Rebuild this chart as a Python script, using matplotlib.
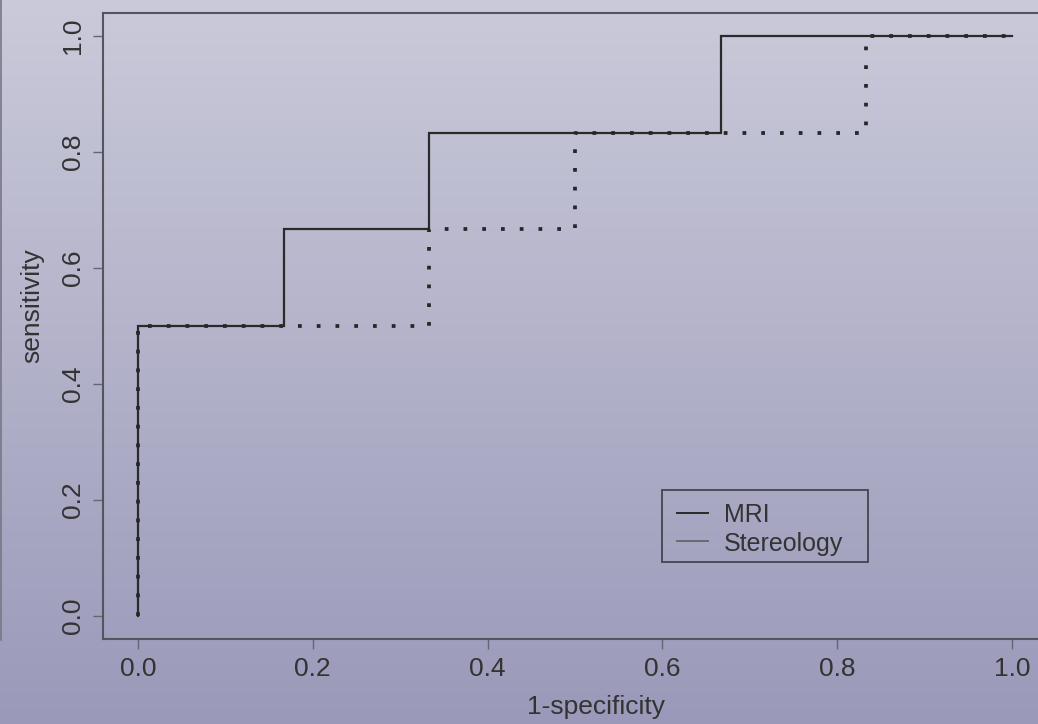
import numpy as np
import matplotlib
matplotlib.use("Agg")
import matplotlib.pyplot as plt
from matplotlib.colors import LinearSegmentedColormap
from matplotlib.patches import Rectangle

plt.rcParams['font.family'] = ['Liberation Sans', 'DejaVu Sans']

# ROC step curves (1-specificity, sensitivity)
mri_fpr = [0, 0, 1/6, 1/6, 2/6, 2/6, 4/6, 4/6, 1]
mri_tpr = [0, 3/6, 3/6, 4/6, 4/6, 5/6, 5/6, 1, 1]
stereo_fpr = [0, 0, 2/6, 2/6, 3/6, 3/6, 5/6, 5/6, 1]
stereo_tpr = [0, 3/6, 3/6, 4/6, 4/6, 5/6, 5/6, 1, 1]
ticks = [0.0, 0.2, 0.4, 0.6, 0.8, 1.0]
tick_labels = ["0.0", "0.2", "0.4", "0.6", "0.8", "1.0"]
legend_labels = ["MRI", "Stereology"]
legend_colors = ["#2a2a2a", "#6a6a70"]

W, H = 1038, 724
fig = plt.figure(figsize=(W / 100, H / 100), dpi=100)

# gradient backdrop
bg = fig.add_axes([0, 0, 1, 1], zorder=-10)
cmap = LinearSegmentedColormap.from_list("bg", ["#cacada", "#9a99b9"])
grad = np.linspace(0, 1, 256).reshape(-1, 1)
bg.imshow(grad, aspect="auto", cmap=cmap, extent=[0, 1, 0, 1], origin="upper")
bg.plot([0.0012, 0.0012], [(H - 640) / H, 1], color="#777788", lw=1.2)
bg.set_xlim(0, 1)
bg.set_ylim(0, 1)
bg.axis("off")

left, right, top, bottom = 103, 1047, 13, 639
aw, ah = right - left, bottom - top
ax = fig.add_axes([left / W, (H - bottom) / H, aw / W, ah / H])
ax.patch.set_alpha(0)


def px(x, y):
    # pixel position (from top-left) -> axes fraction
    return (x - left) / aw, (bottom - y) / ah


ax.plot(mri_fpr, mri_tpr, color="#2a2a2a", lw=1.6, solid_joinstyle="miter")
ax.plot(stereo_fpr, stereo_tpr, color="#262626", lw=2.7,
        linestyle=(0, (1, 4)), dash_capstyle="butt")

ax.set_xlim(-0.04, 1.04)
ax.set_ylim(-0.04, 1.04)
ax.set_xticks(ticks)
ax.set_xticklabels(tick_labels)
ax.set_yticks(ticks)
ax.set_yticklabels(tick_labels, rotation=90, va="center")
ax.tick_params(axis="both", direction="out", length=7, width=1, color="#666670",
               labelsize=19, labelcolor="#333333", pad=6)
for s in ax.spines.values():
    s.set_color("#555560")
    s.set_linewidth(1.5)

ax.set_xlabel("1-specificity", fontsize=19, color="#333333")
ax.set_ylabel("sensitivity", fontsize=19, color="#333333")
ax.xaxis.set_label_coords(*px(596, 695))
ax.yaxis.set_label_coords(*px(44, 306))

# legend box, R style (both keys drawn solid)
x0, y0 = px(662, 562)
x1, y1 = px(868, 490)
ax.add_patch(Rectangle((x0, y0), x1 - x0, y1 - y0, transform=ax.transAxes,
                       fill=False, edgecolor="#444450", lw=1.3))
for i, (lab, col) in enumerate(zip(legend_labels, legend_colors)):
    yy = 513 + 28 * i
    ax.plot([px(677, yy)[0], px(708, yy)[0]], [px(677, yy)[1]] * 2,
            transform=ax.transAxes, color=col, lw=1.4)
    tx, ty = px(724, yy)
    ax.text(tx, ty, lab, transform=ax.transAxes, fontsize=18, color="#333333",
            ha="left", va="center_baseline")

fig.savefig("out.png", dpi=100)
